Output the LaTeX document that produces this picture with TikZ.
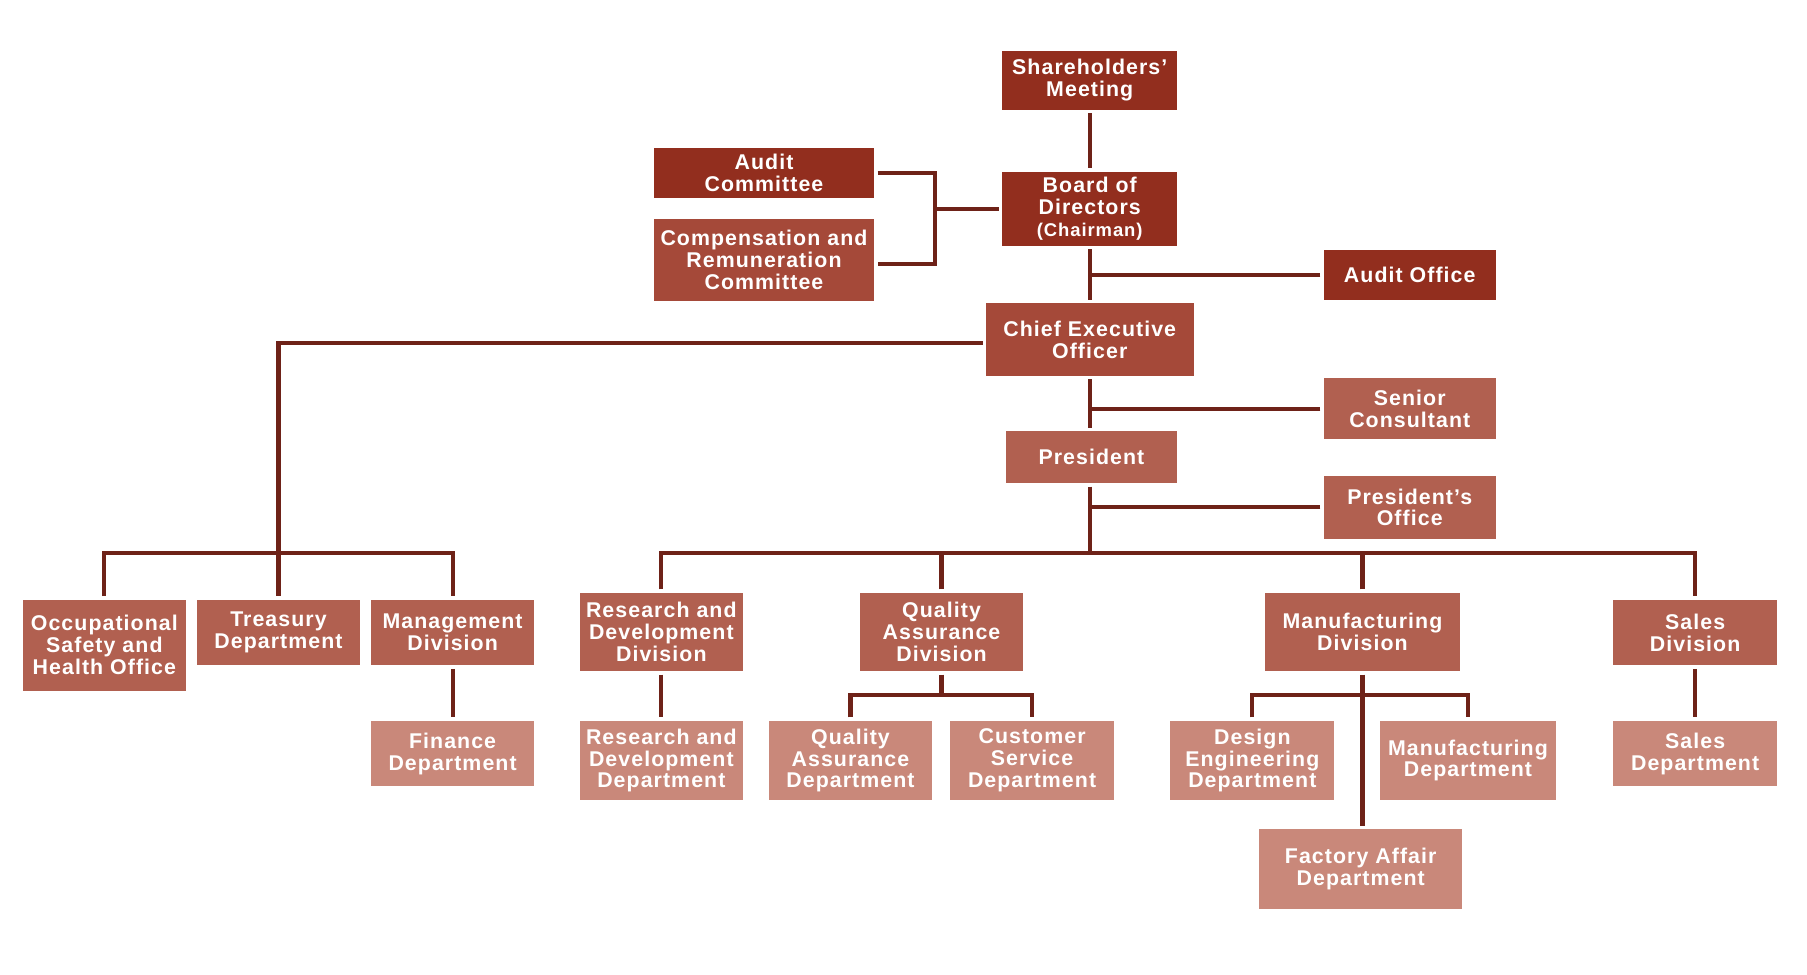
\documentclass[tikz,border=0pt]{standalone}
\usepackage{fontspec}
\setmainfont{Liberation Sans}[LetterSpace=5]
\begin{document}
\begin{tikzpicture}[x=1pt,y=-1pt,
  box/.style={rectangle, inner sep=0pt, outer sep=3pt, text=white, align=center,
    font=\fontsize{18.5}{19}\selectfont\bfseries},
  cA/.style={box, fill=boxA},
  cB/.style={box, fill=boxB},
  cC/.style={box, fill=boxC},
  cD/.style={box, fill=boxD},
  link/.style={draw=linec, line width=3.6pt}]
\definecolor{boxA}{HTML}{922E1E}
\definecolor{boxB}{HTML}{A54939}
\definecolor{boxC}{HTML}{B16050}
\definecolor{boxD}{HTML}{C9887A}
\definecolor{linec}{HTML}{6E2218}
\useasboundingbox (0,0) rectangle (1567,845);
% top
\node[cA, minimum width=152pt, minimum height=51pt] (sh) at (945,69.5) {Shareholders’\\Meeting};
\node[cA, minimum width=152pt, minimum height=64pt] (bod) at (945,181) {Board of\\Directors\\{\fontsize{16}{17}\selectfont(Chairman)}};
\node[cA, minimum width=191pt, minimum height=44pt] (ac) at (662.5,150) {Audit\\Committee};
\node[cB, minimum width=191pt, minimum height=71pt] (cc) at (662.5,225.5) {Compensation and\\Remuneration\\Committee};
\node[cA, minimum width=149pt, minimum height=43pt] (ao) at (1222.5,238.5) {Audit Office};
\node[cB, minimum width=180pt, minimum height=63pt] (ceo) at (945,294.5) {Chief Executive\\Officer};
\node[cC, minimum width=149pt, minimum height=53pt] (sc) at (1222.5,354.5) {Senior\\Consultant};
\node[cC, minimum width=149pt, minimum height=45pt] (pr) at (946.5,396.5) {President};
\node[cC, minimum width=149pt, minimum height=54pt] (po) at (1222.5,440) {President’s\\Office};
% divisions
\node[cC, minimum width=141pt, minimum height=79pt] (osh) at (90.5,559.5) {Occupational\\Safety and\\Health Office};
\node[cC, minimum width=141pt, minimum height=57pt] (tr) at (241.5,548.5) {Treasury\\Department};
\node[cC, minimum width=141pt, minimum height=57pt] (md) at (392.5,548.5) {Management\\Division};
\node[cC, minimum width=141pt, minimum height=68pt] (rdd) at (573.5,548) {Research and\\Development\\Division};
\node[cC, minimum width=141pt, minimum height=68pt] (qad) at (816.5,548) {Quality\\Assurance\\Division};
\node[cC, minimum width=169pt, minimum height=68pt] (mfd) at (1181.5,548) {Manufacturing\\Division};
\node[cC, minimum width=142pt, minimum height=57pt] (sd) at (1470,548.5) {Sales\\Division};
% departments
\node[cD, minimum width=141pt, minimum height=57pt] (fin) at (392.5,653.5) {Finance\\Department};
\node[cD, minimum width=141pt, minimum height=69pt] (rdp) at (573.5,659.5) {Research and\\Development\\Department};
\node[cD, minimum width=141pt, minimum height=69pt] (qap) at (737.5,659.5) {Quality\\Assurance\\Department};
\node[cD, minimum width=142pt, minimum height=69pt] (csp) at (895,659.5) {Customer\\Service\\Department};
\node[cD, minimum width=142pt, minimum height=69pt] (dep) at (1086,659.5) {Design\\Engineering\\Department};
\node[cD, minimum width=152pt, minimum height=69pt] (mfp) at (1273,659.5) {Manufacturing\\Department};
\node[cD, minimum width=142pt, minimum height=57pt] (sp) at (1470,653.5) {Sales\\Department};
\node[cD, minimum width=176pt, minimum height=69pt] (fa) at (1180,753.5) {Factory Affair\\Department};
% connectors
\coordinate (bus) at (0,479.5);
\coordinate (sub) at (0,603);
\draw[link] (sh) -- (bod);
\draw[link] (bod) -- (ceo);
\draw[link] (ceo.south) -- (ceo.south |- pr.north);
\draw[link] (pr.south -| ceo.south) -- (ceo.south |- bus);
\draw[link] (ao.west) -- (ao.west -| bod.south);
\draw[link] (sc.west) -- (sc.west -| ceo.south);
\draw[link] (po.west) -- (po.west -| ceo.south);
\draw[link] (ac.east) -- ++(50,0) |- ([yshift=-3.5pt]cc.east);
\draw[link] (bod.west) -- ++(-57,0);
\draw[link] ([yshift=-3pt]ceo.west) -| (tr.north);
\draw[link] (osh.north) |- (md.north |- bus) -- (md.north);
\draw[link] (rdd.north) |- (sd.north |- bus) -- (sd.north);
\draw[link] (qad.north) -- (qad.north |- bus);
\draw[link] (mfd.north) -- (mfd.north |- bus);
\draw[link] (md) -- (fin);
\draw[link] (rdd) -- (rdp);
\draw[link] (sd) -- (sp);
\draw[link] (qad.south) -- (qad.south |- sub);
\draw[link] (qap.north) |- (csp.north |- sub) -- (csp.north);
\draw[link] (mfd.south) -- (mfd.south |- fa.north);
\draw[link] (dep.north) |- (mfp.north |- sub) -- (mfp.north);
\end{tikzpicture}
\end{document}
